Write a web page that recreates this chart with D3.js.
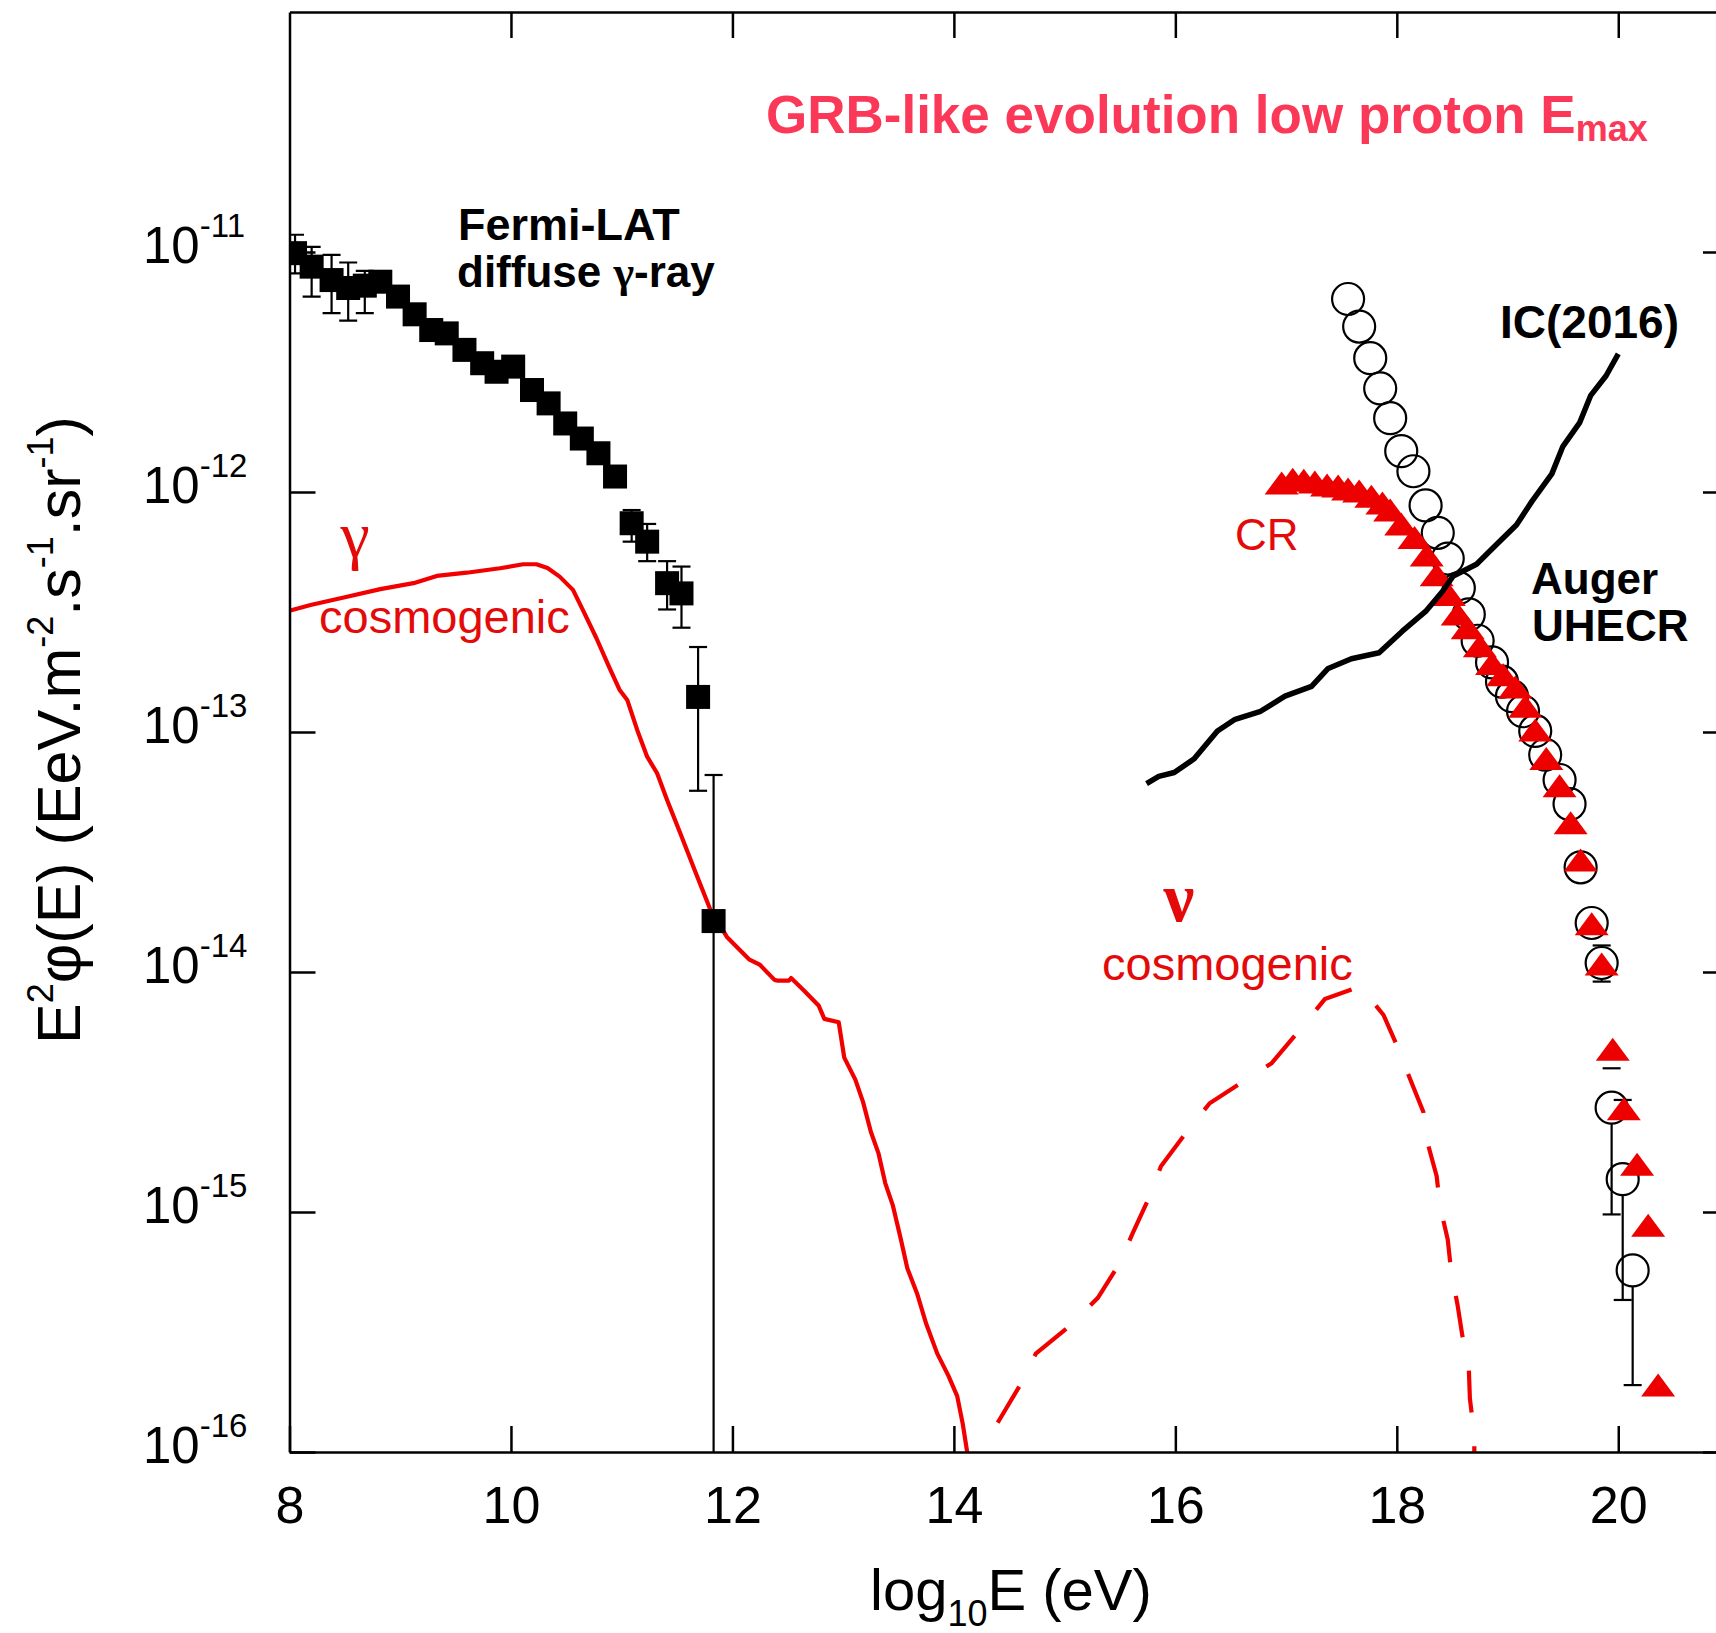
<!DOCTYPE html>
<html>
<head>
<meta charset="utf-8">
<script src="https://cdn.jsdelivr.net/npm/d3@7"></script>
<style>
  html, body { margin: 0; padding: 0; background: #fff; }
  svg { display: block; }
  text { font-family: "Liberation Sans", Arial, Helvetica, sans-serif; }
</style>
</head>
<body>
<svg id="chart" width="1716" height="1633"></svg>
<script>
// ---------------- data ----------------
// axis ticks
const xTicks = [8, 10, 12, 14, 16, 18, 20];
const xTickLabels = ["8", "10", "12", "14", "16", "18", "20"];
const yTicks = [1e-16, 1e-15, 1e-14, 1e-13, 1e-12, 1e-11];
const yTickExponents = ["-16", "-15", "-14", "-13", "-12", "-11"];

// Fermi-LAT diffuse gamma-ray background: log10(E/eV), E^2 phi (EeV m^-2 s^-1 sr^-1)
const fermiE = [8.05, 8.20, 8.38, 8.53, 8.68, 8.82, 8.98, 9.13, 9.28, 9.42, 9.58, 9.74, 9.87,
                10.02, 10.19, 10.34, 10.49, 10.64, 10.79, 10.94, 11.09, 11.23, 11.41, 11.54, 11.69, 11.83];
const fermiFlux = [9.89e-12, 8.69e-12, 7.64e-12, 7.08e-12, 7.24e-12, 7.52e-12, 6.52e-12, 5.50e-12,
                   4.73e-12, 4.58e-12, 3.91e-12, 3.44e-12, 3.17e-12, 3.33e-12, 2.66e-12, 2.34e-12,
                   1.93e-12, 1.67e-12, 1.45e-12, 1.16e-12, 7.41e-13, 6.21e-13, 4.17e-13, 3.78e-13,
                   1.40e-13, 1.63e-14];
const fermiHi = [1.18e-11, 1.05e-11, 9.72e-12, 9.04e-12, 8.34e-12, null, null, null, null, null, null,
                 null, null, null, null, null, null, null, null, null, 8.41e-13, 7.36e-13, 5.15e-13,
                 4.89e-13, 2.26e-13, 6.62e-14];
const fermiLo = [8.15e-12, 6.52e-12, 5.56e-12, 5.18e-12, 5.56e-12, null, null, null, null, null, null,
                 null, null, null, null, null, null, null, null, null, 6.21e-13, 5.15e-13, 3.24e-13,
                 2.72e-13, 5.69e-14, 1e-17];

// cosmogenic photons
const gammaE = [8.00, 8.19, 8.52, 8.82, 9.12, 9.33, 9.60, 9.90, 10.11, 10.23, 10.33, 10.44, 10.56,
                10.65, 10.77, 10.89, 10.98, 11.05, 11.14, 11.23, 11.32, 11.41, 11.53, 11.68, 11.80,
                11.95, 12.15, 12.25, 12.38, 12.41, 12.51, 12.53, 12.65, 12.78, 12.83, 12.96, 13.01,
                13.11, 13.18, 13.25, 13.32, 13.38, 13.45, 13.52, 13.58, 13.67, 13.75, 13.85, 13.95,
                14.03, 14.08, 14.12];
const gammaFlux = [3.20e-13, 3.38e-13, 3.66e-13, 3.94e-13, 4.17e-13, 4.47e-13, 4.61e-13, 4.81e-13,
                   5.00e-13, 5.00e-13, 4.82e-13, 4.44e-13, 3.91e-13, 3.22e-13, 2.47e-13, 1.85e-13,
                   1.50e-13, 1.36e-13, 1.02e-13, 7.89e-14, 6.73e-14, 5.21e-14, 3.78e-14, 2.51e-14,
                   1.82e-14, 1.40e-14, 1.13e-14, 1.07e-14, 9.27e-15, 9.20e-15, 9.20e-15, 9.44e-15,
                   8.34e-15, 7.23e-15, 6.38e-15, 6.17e-15, 4.40e-15, 3.56e-15, 2.87e-15, 2.16e-15,
                   1.75e-15, 1.32e-15, 1.06e-15, 7.73e-16, 5.82e-16, 4.54e-16, 3.42e-16, 2.57e-16,
                   2.08e-16, 1.71e-16, 1.31e-16, 1.00e-16];

// cosmogenic neutrinos
const nuE = [14.24, 14.41, 14.61, 14.74, 15.04, 15.30, 15.50, 15.61, 15.76, 15.87, 16.10, 16.31,
             16.61, 16.87, 17.16, 17.35, 17.67, 17.88, 18.02, 18.12, 18.24, 18.27, 18.36, 18.39,
             18.46, 18.49, 18.55, 18.59, 18.65, 18.66, 18.70, 18.70];
const nuFlux = [1.00e-16, 1.36e-16, 1.94e-16, 2.57e-16, 3.33e-16, 4.39e-16, 6.14e-16, 8.07e-16,
                1.14e-15, 1.55e-15, 2.15e-15, 2.84e-15, 3.49e-15, 4.17e-15, 6.01e-15, 7.71e-15,
                8.71e-15, 6.62e-15, 4.72e-15, 3.58e-15, 2.61e-15, 2.00e-15, 1.41e-15, 1.06e-15,
                7.67e-16, 5.71e-16, 4.06e-16, 3.09e-16, 2.25e-16, 1.67e-16, 1.18e-16, 1.00e-16];

// IceCube 2016 limit
const icE = [15.74, 15.85, 15.99, 16.17, 16.38, 16.54, 16.77, 16.99, 17.23, 17.38, 17.59, 17.84,
             18.05, 18.26, 18.41, 18.51, 18.72, 18.90, 19.08, 19.22, 19.40, 19.50, 19.65, 19.75,
             19.89, 20.00];
const icFlux = [6.10e-14, 6.53e-14, 6.78e-14, 7.73e-14, 1.01e-13, 1.13e-13, 1.22e-13, 1.41e-13,
                1.55e-13, 1.84e-13, 2.02e-13, 2.14e-13, 2.63e-13, 3.18e-13, 3.84e-13, 4.47e-13,
                5.00e-13, 6.04e-13, 7.28e-13, 9.14e-13, 1.19e-12, 1.55e-12, 1.94e-12, 2.52e-12,
                3.05e-12, 3.76e-12];

// Auger UHECR spectrum
const augerE = [17.56, 17.66, 17.76, 17.85, 17.94, 18.04, 18.15, 18.26, 18.37, 18.46, 18.56, 18.65,
                18.73, 18.86, 18.95, 19.04, 19.14, 19.25, 19.34, 19.47, 19.56, 19.66, 19.76, 19.85,
                19.94, 20.04, 20.13];
const augerFlux = [6.37e-12, 4.89e-12, 3.61e-12, 2.70e-12, 2.03e-12, 1.48e-12, 1.22e-12, 8.79e-13,
                   6.76e-13, 5.28e-13, 3.98e-13, 3.09e-13, 2.40e-13, 1.95e-13, 1.62e-13, 1.41e-13,
                   1.22e-13, 1.01e-13, 8.04e-14, 6.31e-14, 5.01e-14, 2.73e-14, 1.60e-14, 1.09e-14,
                   2.72e-15, 1.37e-15, 5.71e-16];
const augerHi = [null, null, null, null, null, null, null, null, null, null, null, null, null, null,
                 null, null, null, null, null, null, null, null, null, 1.29e-14, 3.97e-15, 2.93e-15,
                 1.44e-15];
const augerLo = [null, null, null, null, null, null, null, null, null, null, null, null, null, null,
                 null, null, null, null, null, null, null, null, null, 9.12e-15, 9.77e-16, 4.30e-16,
                 1.90e-16];

// propagated cosmic rays
const crE = [16.96, 17.06, 17.16, 17.26, 17.37, 17.47, 17.56, 17.66, 17.77, 17.87, 17.94, 18.04,
             18.16, 18.27, 18.36, 18.47, 18.55, 18.64, 18.75, 18.86, 18.96, 19.07, 19.16, 19.25,
             19.35, 19.47, 19.57, 19.66, 19.76, 19.85, 19.95, 20.05, 20.17, 20.27, 20.36];
const crFlux = [1.09e-12, 1.13e-12, 1.12e-12, 1.10e-12, 1.07e-12, 1.06e-12, 1.03e-12, 1.01e-12,
                9.59e-13, 8.99e-13, 8.41e-13, 7.36e-13, 6.46e-13, 5.46e-13, 4.52e-13, 3.74e-13,
                3.10e-13, 2.72e-13, 2.29e-13, 1.93e-13, 1.73e-13, 1.54e-13, 1.28e-13, 1.02e-13,
                7.76e-14, 5.97e-14, 4.19e-14, 2.93e-14, 1.59e-14, 1.08e-14, 4.76e-15, 2.69e-15,
                1.58e-15, 8.81e-16, 1.90e-16];

// ---------------- drawing ----------------
const svg = d3.select("#chart");
svg.append("rect").attr("width", 1716).attr("height", 1633).attr("fill", "#fff");

const plot = { left: 289.5, right: 1729, top: 12, bottom: 1452 };
const x = d3.scaleLinear().domain([8, 21]).range([plot.left, plot.right]);
const y = d3.scaleLog().domain([1e-16, 1e-10]).range([plot.bottom, plot.top]);

const RED = "#f20000";
const TEXT_RED = "#e40a0a";
const SERIF = "'Liberation Serif', 'DejaVu Serif', 'Times New Roman', serif";

svg.append("defs").append("clipPath").attr("id", "plotClip")
  .append("rect")
  .attr("x", plot.left).attr("y", plot.top)
  .attr("width", plot.right - plot.left).attr("height", plot.bottom - plot.top);

const data = svg.append("g").attr("clip-path", "url(#plotClip)");

// cosmogenic gamma curve
const zip = (a, b) => a.map((v, i) => [v, b[i]]);
const line = d3.line().x(d => x(d[0])).y(d => y(d[1]));

data.append("path")
  .datum(zip(gammaE, gammaFlux))
  .attr("d", line)
  .attr("fill", "none").attr("stroke", RED).attr("stroke-width", 4.2)
  .attr("stroke-linejoin", "round");

// cosmogenic neutrino curve (dashed)
data.append("path")
  .datum(zip(nuE, nuFlux))
  .attr("d", line)
  .attr("fill", "none").attr("stroke", RED).attr("stroke-width", 4.2)
  .attr("stroke-dasharray", "42 34").attr("stroke-dashoffset", 42);

// Fermi-LAT error bars and squares
const capW = 9;
const fermi = fermiE.map((e, i) => ({ e, f: fermiFlux[i], hi: fermiHi[i], lo: fermiLo[i] }));
const fErr = data.append("g").attr("stroke", "#000").attr("stroke-width", 2.2);
fermi.filter(d => d.hi !== null).forEach(d => {
  const cx = x(d.e);
  fErr.append("line").attr("x1", cx).attr("x2", cx).attr("y1", y(d.hi)).attr("y2", y(d.lo));
  fErr.append("line").attr("x1", cx - capW).attr("x2", cx + capW).attr("y1", y(d.hi)).attr("y2", y(d.hi));
  fErr.append("line").attr("x1", cx - capW).attr("x2", cx + capW).attr("y1", y(d.lo)).attr("y2", y(d.lo));
});
const sq = 24;
data.append("g").selectAll("rect").data(fermi).join("rect")
  .attr("x", d => x(d.e) - sq / 2).attr("y", d => y(d.f) - sq / 2)
  .attr("width", sq).attr("height", sq).attr("fill", "#000");

// Auger open circles with error bars
const R = 16;
const auger = augerE.map((e, i) => ({ e, f: augerFlux[i], hi: augerHi[i], lo: augerLo[i] }));
const aErr = data.append("g").attr("stroke", "#000").attr("stroke-width", 2.2);
auger.filter(d => d.hi !== null).forEach(d => {
  const cx = x(d.e), cy = y(d.f);
  aErr.append("line").attr("x1", cx).attr("x2", cx).attr("y1", y(d.hi)).attr("y2", Math.min(cy - R, y(d.hi)));
  aErr.append("line").attr("x1", cx).attr("x2", cx).attr("y1", cy + R).attr("y2", Math.max(cy + R, y(d.lo)));
  aErr.append("line").attr("x1", cx - capW).attr("x2", cx + capW).attr("y1", y(d.hi)).attr("y2", y(d.hi));
  aErr.append("line").attr("x1", cx - capW).attr("x2", cx + capW).attr("y1", y(d.lo)).attr("y2", y(d.lo));
});
data.append("g").selectAll("circle").data(auger).join("circle")
  .attr("cx", d => x(d.e)).attr("cy", d => y(d.f)).attr("r", R)
  .attr("fill", "none").attr("stroke", "#000").attr("stroke-width", 2.2);

// cosmic-ray triangles
const triW = 34, triH = 23;
data.append("g").selectAll("path").data(zip(crE, crFlux)).join("path")
  .attr("d", `M0,${-triH / 2}L${triW / 2},${triH / 2}L${-triW / 2},${triH / 2}Z`)
  .attr("transform", d => `translate(${x(d[0])},${y(d[1])})`)
  .attr("fill", "#ec0000");

// IceCube line
data.append("path")
  .datum(zip(icE, icFlux))
  .attr("d", line)
  .attr("fill", "none").attr("stroke", "#000").attr("stroke-width", 5.5)
  .attr("stroke-linejoin", "round").attr("stroke-linecap", "butt");

// ---------------- axes ----------------
const tickLen = 26;
const styleAxis = g => {
  g.selectAll(".domain").attr("stroke", "#000").attr("stroke-width", 2.5);
  g.selectAll(".tick line").attr("stroke", "#000").attr("stroke-width", 2.5);
};

const xBottom = svg.append("g").attr("transform", `translate(0,${plot.bottom})`)
  .call(d3.axisBottom(x).tickValues(xTicks).tickSize(-tickLen).tickSizeOuter(0)
    .tickPadding(34).tickFormat((d, i) => xTickLabels[i]));
styleAxis(xBottom);
xBottom.selectAll(".tick text")
  .attr("fill", "#000").attr("font-size", 52);

const xTop = svg.append("g").attr("transform", `translate(0,${plot.top})`)
  .call(d3.axisTop(x).tickValues(xTicks.slice(1)).tickSize(-tickLen).tickSizeOuter(0).tickFormat(""));
styleAxis(xTop);

const yLeft = svg.append("g").attr("transform", `translate(${plot.left},0)`)
  .call(d3.axisLeft(y).tickValues(yTicks).tickSize(-tickLen).tickSizeOuter(0).tickFormat(""));
styleAxis(yLeft);

const yRight = svg.append("g").attr("transform", `translate(${plot.right},0)`)
  .call(d3.axisRight(y).tickValues(yTicks).tickSize(-tickLen).tickSizeOuter(0).tickFormat(""));
styleAxis(yRight);

// y tick labels: 10 with exponent
yTicks.forEach((v, i) => {
  const t = svg.append("text").attr("x", 143).attr("y", y(v) + 11).attr("fill", "#000");
  t.append("tspan").attr("font-size", 51).text("10");
  t.append("tspan").attr("font-size", 33).attr("dy", -26).text(yTickExponents[i]);
});

// y axis title
const yTitle = svg.append("text")
  .attr("transform", "translate(80,730) rotate(-90)")
  .attr("text-anchor", "middle").attr("font-size", 61).attr("fill", "#000");
const supDy = 27;
yTitle.append("tspan").text("E");
yTitle.append("tspan").attr("font-size", 36).attr("dy", -supDy).text("2");
yTitle.append("tspan").attr("dy", supDy).text("\u03c6(E) (EeV.m");
yTitle.append("tspan").attr("font-size", 36).attr("dy", -supDy).text("-2");
yTitle.append("tspan").attr("dy", supDy).text(".s");
yTitle.append("tspan").attr("font-size", 36).attr("dy", -supDy).text("-1");
yTitle.append("tspan").attr("dy", supDy).text(".sr");
yTitle.append("tspan").attr("font-size", 36).attr("dy", -supDy).text("-1");
yTitle.append("tspan").attr("dy", supDy).text(")");

// x axis title
const xTitle = svg.append("text").attr("x", 870).attr("y", 1610)
  .attr("font-size", 58).attr("fill", "#000");
xTitle.append("tspan").text("log");
xTitle.append("tspan").attr("font-size", 36).attr("dy", 16).text("10");
xTitle.append("tspan").attr("dy", -16).text("E (eV)");

// ---------------- annotations ----------------
const title = svg.append("text").attr("x", 766).attr("y", 133)
  .attr("font-size", 53).attr("font-weight", "bold").attr("fill", "#fc3858");
title.append("tspan").text("GRB-like evolution low proton E");
title.append("tspan").attr("font-size", 36).attr("dy", 8).text("max");

svg.append("text").attr("x", 458).attr("y", 240).attr("font-size", 45)
  .attr("font-weight", "bold").attr("fill", "#000").text("Fermi-LAT");
const diffuse = svg.append("text").attr("x", 457).attr("y", 287).attr("font-size", 44)
  .attr("font-weight", "bold").attr("fill", "#000");
diffuse.append("tspan").text("diffuse ");
diffuse.append("tspan").style("font-family", SERIF).text("\u03b3");
diffuse.append("tspan").text("-ray");

svg.append("text").attr("x", 1500).attr("y", 338).attr("font-size", 46)
  .attr("font-weight", "bold").attr("fill", "#000").text("IC(2016)");
svg.append("text").attr("x", 1531).attr("y", 594).attr("font-size", 44)
  .attr("font-weight", "bold").attr("fill", "#000").text("Auger");
svg.append("text").attr("x", 1532).attr("y", 641).attr("font-size", 44)
  .attr("font-weight", "bold").attr("fill", "#000").text("UHECR");

svg.append("text").attr("x", 1235).attr("y", 550).attr("font-size", 44)
  .attr("fill", TEXT_RED).text("CR");

svg.append("text").attr("x", 355).attr("y", 557).attr("text-anchor", "middle")
  .style("font-family", SERIF)
  .attr("font-size", 66).attr("fill", TEXT_RED).text("\u03b3");
svg.append("text").attr("x", 319).attr("y", 633).attr("font-size", 47)
  .attr("fill", TEXT_RED).text("cosmogenic");

svg.append("text").attr("x", 1179).attr("y", 921).attr("text-anchor", "middle")
  .style("font-family", SERIF)
  .attr("font-size", 69).attr("font-weight", "bold").attr("fill", TEXT_RED).text("\u03bd");
svg.append("text").attr("x", 1102).attr("y", 980).attr("font-size", 47)
  .attr("fill", TEXT_RED).text("cosmogenic");
</script>
</body>
</html>
